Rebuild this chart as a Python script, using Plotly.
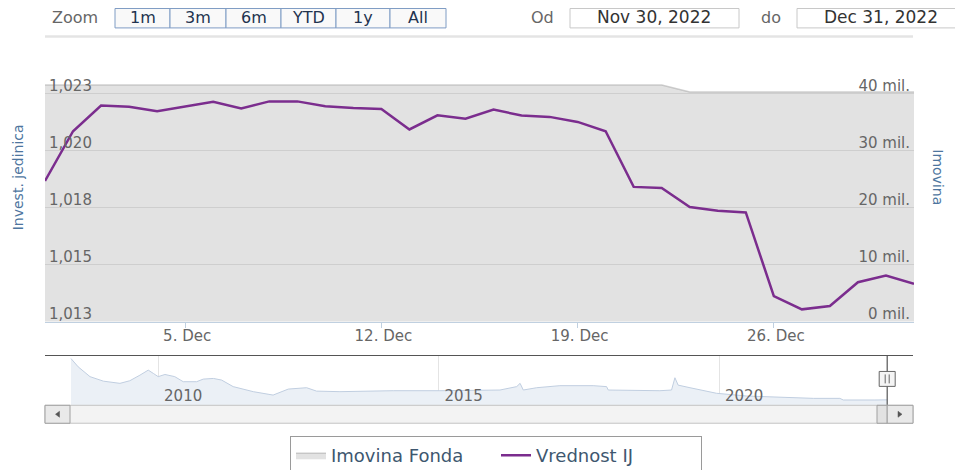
import plotly.graph_objects as go

W, H = 963, 470
OFF = 8  # the page body adds an 8 px margin around the figure


def px(x):
    return (x - OFF) / W


def py(y):
    return 1 - (y - OFF) / H


# ---------------- data ----------------
dates = [
    "2022-11-30", "2022-12-01", "2022-12-02", "2022-12-03", "2022-12-04", "2022-12-05",
    "2022-12-06", "2022-12-07", "2022-12-08", "2022-12-09", "2022-12-10", "2022-12-11",
    "2022-12-12", "2022-12-13", "2022-12-14", "2022-12-15", "2022-12-16", "2022-12-17",
    "2022-12-18", "2022-12-19", "2022-12-20", "2022-12-21", "2022-12-22", "2022-12-23",
    "2022-12-24", "2022-12-25", "2022-12-26", "2022-12-27", "2022-12-28", "2022-12-29",
    "2022-12-30", "2022-12-31",
]
vrednost_ij = [
    1.01867, 1.02085, 1.02198, 1.02192, 1.02173, 1.02195,
    1.02214, 1.02185, 1.02216, 1.02216, 1.02195, 1.02187,
    1.02183, 1.02093, 1.02155, 1.02140, 1.02180, 1.02154,
    1.02148, 1.02126, 1.02085, 1.01841, 1.01836, 1.01753,
    1.01736, 1.01729, 1.01362, 1.01304, 1.01319, 1.01423,
    1.01452, 1.01416,
]
imovina_fonda_mil = [
    41.5, 41.5, 41.5, 41.5, 41.5, 41.5,
    41.5, 41.5, 41.5, 41.5, 41.5, 41.5,
    41.5, 41.5, 41.5, 41.5, 41.5, 41.5,
    41.5, 41.5, 41.5, 41.5, 41.5, 40.3,
    40.3, 40.3, 40.3, 40.3, 40.3, 40.3,
    40.3, 40.3,
]

nav_dates = [
    "2008-06-13", "2008-07-30", "2008-10-15", "2009-01-10", "2009-04-28", "2009-07-01",
    "2009-09-05", "2009-10-29", "2009-12-01", "2010-01-02", "2010-02-15", "2010-04-20",
    "2010-06-14", "2010-09-09", "2010-10-22", "2010-12-27", "2011-02-19", "2011-05-05",
    "2011-09-13", "2012-01-20", "2012-04-28", "2012-08-25", "2012-10-29", "2013-03-30",
    "2013-10-12", "2014-03-12", "2015-01-10", "2016-02-05", "2016-05-24", "2016-06-15",
    "2016-07-06", "2016-10-01", "2017-03-01", "2017-10-04", "2017-12-30", "2018-01-10",
    "2018-12-12", "2019-02-26", "2019-03-20", "2019-04-10", "2019-06-26", "2019-08-30",
    "2019-12-16", "2020-06-29", "2021-09-06", "2022-02-26", "2022-03-20", "2022-10-12",
    "2022-12-31",
]
nav_imovina_mil = [
    343, 282, 210, 177, 161, 180,
    221, 258, 234, 210, 226, 210,
    173, 173, 192, 197, 185, 137,
    100, 75, 119, 129, 104, 100,
    104, 107, 107, 112, 137, 161,
    112, 129, 144, 144, 137, 112,
    107, 112, 202, 148, 129, 112,
    88, 68, 51, 51, 39, 39,
    40,
]

ij_tickvals = [1.0125, 1.015, 1.0175, 1.02, 1.0225]
ij_ticktext = ["1,013", "1,015", "1,018", "1,020", "1,023"]
mil_tickvals = [0, 10, 20, 30, 40]
mil_ticktext = ["0 mil.", "10 mil.", "20 mil.", "30 mil.", "40 mil."]
x_tickvals = ["2022-12-05", "2022-12-12", "2022-12-19", "2022-12-26"]
x_ticktext = ["5. Dec", "12. Dec", "19. Dec", "26. Dec"]
nav_tickvals = ["2010-01-01", "2015-01-01", "2020-01-01"]
nav_ticktext = ["2010", "2015", "2020"]
range_buttons = ["1m", "3m", "6m", "YTD", "1y", "All"]
date_from = "Nov 30, 2022"
date_to = "Dec 31, 2022"

FONT = "DejaVu Sans"
LABEL = "#666666"
TITLE = "#4d759e"

# ---------------- traces ----------------
fig = go.Figure()
fig.add_trace(go.Scatter(
    x=dates, y=imovina_fonda_mil, name="Imovina Fonda", mode="lines",
    fill="tozeroy", fillcolor="rgba(185,185,185,0.42)",
    line=dict(color="rgba(170,170,170,0.55)", width=1.5),
    xaxis="x", yaxis="y", hoverinfo="skip",
))
fig.add_trace(go.Scatter(
    x=dates, y=vrednost_ij, name="Vrednost IJ", mode="lines",
    line=dict(color="#7b2d8e", width=2.5),
    xaxis="x", yaxis="y2",
))
fig.add_trace(go.Scatter(
    x=nav_dates, y=nav_imovina_mil, mode="lines", fill="tozeroy",
    fillcolor="#ebf0f6", line=dict(color="#c0cee0", width=1),
    xaxis="x2", yaxis="y3", showlegend=False, hoverinfo="skip",
))

# ---------------- shapes ----------------
shapes = []


def rect(x0, y0, x1, y1, fill, line, width=1, layer="above"):
    shapes.append(dict(type="rect", xref="paper", yref="paper",
                       x0=px(x0), x1=px(x1), y0=py(y1), y1=py(y0),
                       fillcolor=fill, line=dict(color=line, width=width),
                       layer=layer))


def hline(x0, x1, y, color, width=1):
    shapes.append(dict(type="line", xref="paper", yref="paper",
                       x0=px(x0), x1=px(x1), y0=py(y), y1=py(y),
                       line=dict(color=color, width=width)))


# top bar: range buttons
edges = [115, 170, 226, 281, 336, 390, 446]
for i in range(len(range_buttons)):
    rect(edges[i], 8.5, edges[i + 1], 28, "#f9f9f9", "#7f9cc4")
# date inputs
rect(570, 8.5, 739, 28, "#ffffff", "#c8c8c8")
rect(797, 8.5, 990, 28, "#ffffff", "#c8c8c8")
# separator line
hline(45, 913, 36.5, "#e4e4e4", 2.5)

# navigator outline
hline(45, 913, 357, "#555555", 1.2)
shapes.append(dict(type="line", xref="x2", yref="paper",
                   x0=nav_dates[-1], x1=nav_dates[-1], y0=py(411), y1=py(357),
                   line=dict(color="#555555", width=1.2)))

# scrollbar
rect(45, 407, 913, 425, "#f3f3f3", "#c4c4c4")
rect(45, 407, 70, 425, "#e9e9e9", "#a0a0a0")
rect(887, 407, 913, 425, "#e9e9e9", "#a0a0a0")
rect(877, 407, 887, 425, "#e2e2e2", "#a0a0a0")
shapes.append(dict(type="path", xref="paper", yref="paper",
                   path=f"M {px(59.5)},{py(413)} L {px(59.5)},{py(419)} L {px(55.5)},{py(416)} Z",
                   fillcolor="#555555", line=dict(color="#555555", width=0.5)))
shapes.append(dict(type="path", xref="paper", yref="paper",
                   path=f"M {px(898)},{py(413)} L {px(898)},{py(419)} L {px(902)},{py(416)} Z",
                   fillcolor="#555555", line=dict(color="#555555", width=0.5)))

# navigator handle
shapes.append(dict(type="rect", xref="x2", yref="paper", xsizemode="pixel",
                   xanchor=nav_dates[-1], x0=-8, x1=8, y0=py(388), y1=py(373),
                   fillcolor="#f4f4f4", line=dict(color="#666666", width=1)))
for dx in (-2, 2):
    shapes.append(dict(type="line", xref="x2", yref="paper", xsizemode="pixel",
                       xanchor=nav_dates[-1], x0=dx, x1=dx, y0=py(385), y1=py(376),
                       line=dict(color="#666666", width=1)))

# ---------------- annotations ----------------
ann = []


def text(x, y, s, size, color, angle=0, xanchor="center"):
    ann.append(dict(x=px(x), y=py(y), xref="paper", yref="paper", text=s,
                    showarrow=False, textangle=angle, xanchor=xanchor,
                    yanchor="middle", font=dict(family=FONT, size=size, color=color)))


text(75, 17.5, "Zoom", 16, LABEL)
for i, b in enumerate(range_buttons):
    text((edges[i] + edges[i + 1]) / 2, 17.5, b, 16, "#22334f")
text(542, 17.5, "Od", 16, LABEL)
text(654, 17.5, date_from, 17, "#333333")
text(771, 17.5, "do", 16, LABEL)
text(881, 17.5, date_to, 17, "#333333")
text(18, 178, "Invest. jedinica", 14, TITLE, angle=-90)
text(938, 178, "Imovina", 14, TITLE, angle=90)

# ---------------- layout ----------------
# plot area: x 45..914, y 62..323 (page px); 0 / 1.0125 at y=323, 40 mil / 1.0225 at y=94
PLOT_TOP = 62
mil_max = (323 - PLOT_TOP) / 229 * 40
ij_max = 1.0125 + (323 - PLOT_TOP) / 229 * 0.01

tickfont = dict(family=FONT, size=15, color=LABEL)
fig.update_layout(
    width=W, height=H, autosize=False,
    margin=dict(l=0, r=0, t=0, b=0, pad=0),
    paper_bgcolor="white", plot_bgcolor="white",
    font=dict(family=FONT, size=15, color=LABEL),
    xaxis=dict(
        domain=[px(45), px(914)], anchor="y", type="date",
        range=[dates[0], dates[-1]],
        tickvals=x_tickvals, ticktext=x_ticktext, tickfont=tickfont,
        ticks="outside", ticklen=5, tickcolor="#c0d0e0",
        ticklabelstandoff=-5, ticklabelshift=2,
        showline=True, linecolor="#c0d0e0", linewidth=1,
        showgrid=False, zeroline=False, fixedrange=True,
    ),
    yaxis=dict(
        domain=[py(323), py(PLOT_TOP)], anchor="x", side="right",
        range=[0, mil_max], tickvals=mil_tickvals, ticktext=mil_ticktext,
        ticklabelposition="inside top", ticklabeloverflow="allow",
        ticklabelshift=3, ticklabelstandoff=1,
        tickfont=tickfont, ticks="",
        showgrid=True, gridcolor="#dcdcdc", gridwidth=1,
        zeroline=False, showline=False, fixedrange=True,
    ),
    yaxis2=dict(
        overlaying="y", anchor="x", side="left",
        range=[1.0125, ij_max], tickvals=ij_tickvals, ticktext=ij_ticktext,
        ticklabelposition="inside top", ticklabeloverflow="allow",
        ticklabelshift=3, ticklabelstandoff=1,
        tickfont=tickfont, ticks="",
        showgrid=False, zeroline=False, showline=False, fixedrange=True,
    ),
    xaxis2=dict(
        domain=[px(45), px(913)], anchor="y3", type="date",
        range=["2007-12-27", "2023-06-17"],
        tickvals=nav_tickvals, ticktext=nav_ticktext,
        ticklabelposition="inside right", ticklabelstandoff=-5, ticklabelshift=6,
        tickfont=tickfont, ticks="",
        showgrid=True, gridcolor="#e4e4e4", gridwidth=1,
        showline=False, zeroline=False, fixedrange=True,
    ),
    yaxis3=dict(
        domain=[py(407), py(357)], anchor="x2", range=[0, 365],
        visible=False, showgrid=False, zeroline=False, fixedrange=True,
    ),
    legend=dict(
        orientation="h", x=px(290), xanchor="left", y=py(438), yanchor="top",
        bordercolor="#9a9a9a", borderwidth=1, bgcolor="white",
        entrywidth=160, entrywidthmode="pixels",
        font=dict(family=FONT, size=18, color="#3e576f"),
    ),
    shapes=shapes,
    annotations=ann,
    showlegend=True,
)

fig.write_html("out.html")
